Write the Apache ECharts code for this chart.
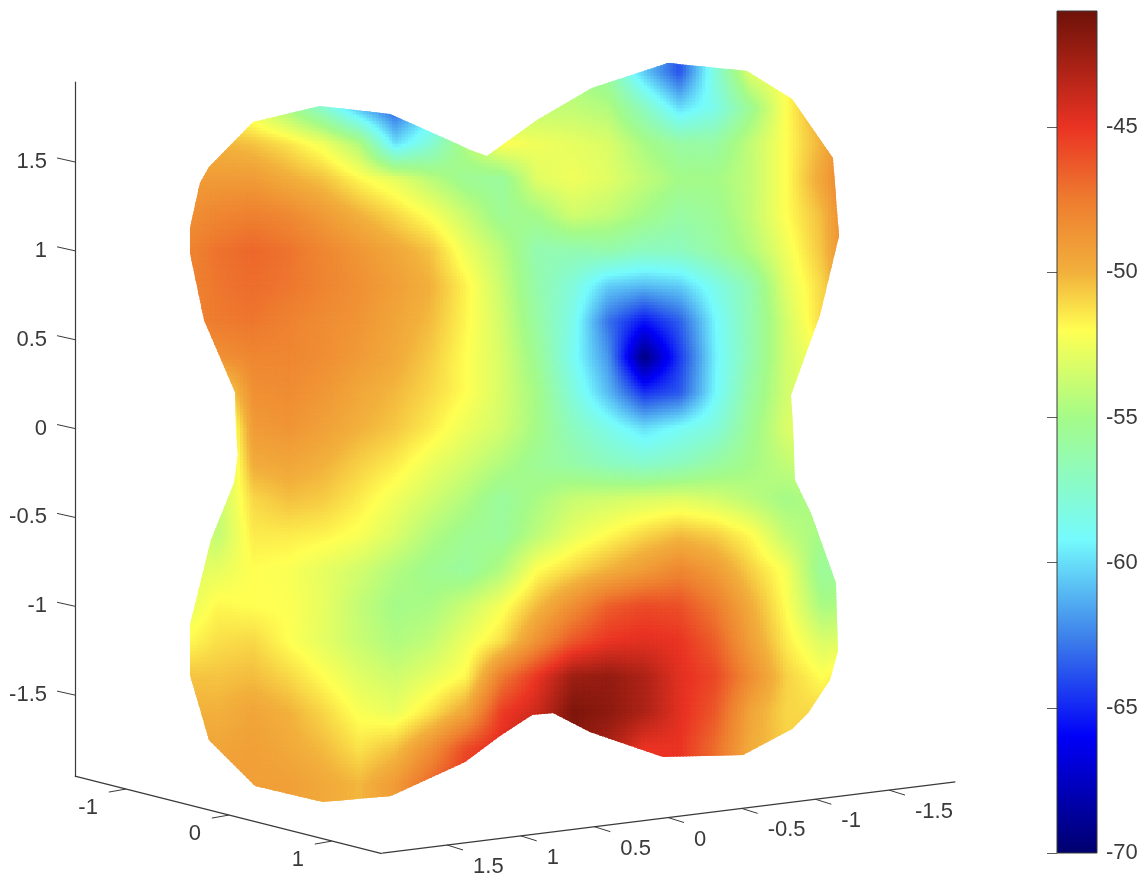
<!DOCTYPE html>
<html>
<head>
<meta charset="utf-8">
<style>
  html, body { margin: 0; padding: 0; background: #fff; }
  #main { width: 1146px; height: 882px; }
</style>
<script src="https://cdn.jsdelivr.net/npm/echarts@6/dist/echarts.min.js"></script>
</head>
<body>
<div id="main"></div>
<script>
// sideways position on screen and height of the surface grid nodes
const colS = [-1.9, -1.7, -1.5, -1.3, -1.1, -0.9, -0.7, -0.5, -0.3, -0.1, 0.1, 0.3, 0.5, 0.7, 0.9, 1.1, 1.3, 1.5, 1.7, 1.9];
const rowZ = [2.2, 2.0, 1.8, 1.6, 1.4, 1.2, 1.0, 0.8, 0.6, 0.4, 0.2, 0, -0.2, -0.4, -0.6, -0.8, -1.0, -1.2, -1.4, -1.6, -1.8, -2.0, -2.2];

// surface colour values, one row per rowZ
const surfaceValues = [
  [-56, -56, -56, -57, -58, -60, -61, -59, -57, -55, -55, -55, -56, -60.5, -63.8, -58, -53, -52, -50, -50],
  [-56, -56, -56, -57, -58, -60, -61, -59, -57, -55, -55, -55, -56, -60.5, -63.8, -58, -53, -52, -50, -50],
  [-52, -52, -53, -55, -57.5, -61, -63.5, -60, -56, -54.5, -54, -54, -54.5, -57, -60, -58.5, -55.5, -52, -49.5, -49],
  [-50, -50, -50.5, -51.3, -52.5, -54.5, -60, -57.8, -54.5, -52, -52.5, -52.8, -53.2, -54.8, -56, -56, -54, -52, -50, -47],
  [-49, -49, -49, -49.8, -50.5, -51.8, -52.8, -54.2, -55.5, -55.8, -53, -52.5, -53, -54, -55, -55, -54, -52, -49.5, -46.5],
  [-48.5, -48, -47.7, -48.1, -49, -50, -51, -52.2, -53.8, -55.5, -55, -53.5, -54, -55, -56, -55.5, -54, -52, -50.3, -46.8],
  [-48, -47.2, -46.8, -47.2, -48, -48.8, -49.6, -50.5, -52.6, -54.2, -56.5, -56.5, -56.3, -57, -57, -56, -54.5, -52.5, -50.5, -47],
  [-48, -47.3, -47, -47.3, -47.9, -48.5, -49.2, -50, -51.7, -53.8, -56.3, -58, -60.5, -61, -60.5, -58.5, -56.5, -53, -51, -48],
  [-48, -47.5, -47.3, -47.8, -48.3, -48.7, -49.5, -50.3, -51.8, -53.5, -56, -58.5, -63, -65.5, -63.5, -59.3, -56.5, -53.5, -51, -50],
  [-48.5, -48.5, -48, -48, -48.4, -49, -49.7, -50.7, -52, -53.3, -55.5, -58.8, -62, -69.5, -64.5, -59.5, -56.5, -53.5, -52, -51],
  [-49, -52, -48.5, -48.3, -48.8, -49.6, -50.2, -51, -52, -53.3, -55, -58, -61, -64.7, -63.7, -59.3, -56, -53.5, -52.5, -52],
  [-50, -55, -49, -48.7, -49.3, -50, -50.6, -51.5, -52.6, -53.5, -55, -57, -58.5, -60, -59, -58, -55.5, -53.2, -52.5, -52],
  [-51, -55, -49.8, -49.5, -50, -50.8, -51.5, -52.6, -53.5, -54.5, -55.5, -56.2, -57, -57.5, -57, -56, -55, -54, -53.5, -53],
  [-52, -54, -51, -50.4, -50.7, -51.5, -52.5, -53.5, -54.5, -55.8, -54.8, -53.8, -53.5, -53.2, -53, -53.4, -54.2, -55, -54.5, -54],
  [-52.5, -54, -51.5, -51.5, -51.7, -52.2, -53.2, -54.5, -55.4, -55.7, -54.2, -52.8, -51.9, -51, -50.3, -50.8, -51.9, -54, -55, -55],
  [-53, -52.8, -52, -52.2, -52.8, -53.5, -54.5, -55.3, -55.8, -54.5, -52, -51, -50, -49, -48, -49, -50.8, -52.3, -55.7, -55.5],
  [-53, -51.8, -52, -52.1, -52.8, -54, -55, -54.8, -53.7, -52.3, -50.3, -48.4, -46.5, -45.8, -46, -47.5, -49.8, -52, -54.8, -54.5],
  [-52, -51.2, -51, -52, -52.9, -53.8, -54.6, -54, -52.6, -51.2, -48.5, -46.2, -45, -44.7, -45, -46.5, -49.2, -51.5, -53.2, -53],
  [-50.5, -50.5, -50.3, -51, -52, -53, -53.6, -52.8, -51.8, -47.5, -45, -42.5, -42.2, -43, -44.7, -45.7, -48.3, -50.8, -52, -51],
  [-50, -50, -49.5, -50, -51, -52.2, -52.7, -51.3, -49.5, -45.3, -44, -41.5, -42, -43, -44.7, -46.3, -49.5, -51, -51, -50.5],
  [-49, -49.5, -49.2, -49.7, -50.3, -51.3, -50.5, -48.5, -45.8, -44.5, -43, -42, -43, -45, -45, -47, -49.8, -50.8, -50.5, -50],
  [-49, -49, -49.2, -49.2, -49.7, -50.2, -49, -46.8, -45, -45, -44, -42.5, -43, -45, -45, -47, -50, -50.5, -50, -50],
  [-49, -49, -49.2, -49.2, -49.7, -50.2, -49, -46.8, -45, -45, -44, -42.5, -43, -45, -45, -47, -50, -50.5, -50, -50]
];

// silhouette of the surface, [sideways, height]
const outline = [
  [-1.502, 1.725], [-1.125, 1.815], [-0.732, 1.770], [-0.377, 1.612], [-0.281, 1.567], [-0.186, 1.533],
  [0.096, 1.736], [0.405, 1.916], [0.833, 2.057], [1.277, 2.012], [1.531, 1.854], [1.761, 1.522],
  [1.795, 1.083], [1.688, 0.639], [1.525, 0.189], [1.536, 0.008], [1.547, -0.290], [1.637, -0.475],
  [1.778, -0.869], [1.789, -1.252], [1.744, -1.415], [1.621, -1.601], [1.531, -1.691], [1.255, -1.837],
  [0.805, -1.848], [0.394, -1.708], [0.186, -1.601], [0.068, -1.612], [-0.113, -1.730], [-0.309, -1.877],
  [-0.726, -2.068], [-1.109, -2.102], [-1.491, -2.012], [-1.750, -1.753], [-1.857, -1.387], [-1.857, -1.106],
  [-1.739, -0.627], [-1.609, -0.307], [-1.587, -0.149], [-1.598, -0.008], [-1.604, 0.205], [-1.778, 0.611],
  [-1.857, 0.988], [-1.857, 1.128], [-1.801, 1.381], [-1.750, 1.471]
];

// colormap
const colorLevels = [-70, -66, -62.7, -59.2, -55, -52, -50, -47.5, -45, -41];
const colorHexes = ['#00006e', '#0000f8', '#3b7cea', '#75fbfd', '#a4fb88', '#ffff52', '#f2b03c', '#ee7c2f', '#ea3323', '#6e1209'];

// tick labels
const zTicks = [-1.5, -1, -0.5, 0, 0.5, 1, 1.5];
const xTicks = [-1, 0, 1];
const yTicks = [-1.5, -1, -0.5, 0, 0.5, 1, 1.5];

const SUB = 11;

function valueColor(v) {
  let k = 0;
  while (k < colorLevels.length - 2 && v > colorLevels[k + 1]) k++;
  const t = (v - colorLevels[k]) / (colorLevels[k + 1] - colorLevels[k]);
  return echarts.color.lerp(Math.max(0, Math.min(1, t)), [colorHexes[k], colorHexes[k + 1]]);
}

// the two floor axes drawn at their slant
const xFloor = t => [-1.638 + 0.5796 * t, -2.175 - 0.1463 * t];
const yFloor = t => [0.833 - 0.829 * t, -2.189 - 0.103 * t];

const cells = [];
for (let j = 0; j < rowZ.length - 1; j++) {
  for (let i = 0; i < colS.length - 1; i++) cells.push([i, j]);
}

function renderCell(params, api) {
  const i = api.value(0), j = api.value(1);
  const s0 = colS[i], s1 = colS[i + 1], z0 = rowZ[j], z1 = rowZ[j + 1];
  const a = surfaceValues[j][i], b = surfaceValues[j][i + 1];
  const c = surfaceValues[j + 1][i], d = surfaceValues[j + 1][i + 1];
  const children = [];
  for (let m = 0; m < SUB; m++) {
    for (let n = 0; n < SUB; n++) {
      const u = (n + 0.5) / SUB, w = (m + 0.5) / SUB;
      const v = (a * (1 - u) + b * u) * (1 - w) + (c * (1 - u) + d * u) * w;
      const col = valueColor(v);
      const sa = s0 + (s1 - s0) * n / SUB, sb = s0 + (s1 - s0) * (n + 1) / SUB;
      const za = z0 + (z1 - z0) * m / SUB, zb = z0 + (z1 - z0) * (m + 1) / SUB;
      children.push({
        type: 'polygon',
        shape: { points: [api.coord([sa, za]), api.coord([sb, za]), api.coord([sb, zb]), api.coord([sa, zb])] },
        style: { fill: col, stroke: col, lineWidth: 1 },
        silent: true
      });
    }
  }
  return {
    type: 'group',
    children: children,
    clipPath: { type: 'polygon', shape: { points: outline.map(p => api.coord(p)) } }
  };
}

function segment(api, p, q, w) {
  const a = api.coord(p), b = api.coord(q);
  return { type: 'line', shape: { x1: a[0], y1: a[1], x2: b[0], y2: b[1] }, style: { stroke: '#3a3a3a', lineWidth: w } };
}

function label(api, p, dx, dy, text, align) {
  const a = api.coord(p);
  return {
    type: 'text', x: a[0] + dx, y: a[1] + dy,
    style: { text: text, fontFamily: 'Liberation Sans', fontSize: 22, fill: '#3a3a3a', align: align, verticalAlign: 'middle' }
  };
}

function renderFloor(params, api) {
  const ch = [];
  ch.push(segment(api, xFloor(-1.495), xFloor(1.485), 1.2));
  ch.push(segment(api, yFloor(1.94), yFloor(-1.95), 1.2));
  xTicks.forEach(t => {
    const p = xFloor(t);
    ch.push(segment(api, p, [p[0] - 0.096, p[1] - 0.017], 1));
    ch.push(label(api, p, -28, 19, String(t), 'right'));
  });
  yTicks.forEach(t => {
    const p = yFloor(t);
    ch.push(segment(api, p, [p[0] + 0.09, p[1] - 0.028], 1));
    ch.push(label(api, p, 26, 22, String(t), 'left'));
  });
  zTicks.forEach(t => {
    ch.push(segment(api, [-2.504, t], [-2.605, t + 0.0225], 1));
  });
  return { type: 'group', children: ch, silent: true };
}

function renderColorbar(params, api) {
  const top = api.coord([0, -41]), bottom = api.coord([1, -70]);
  const stops = colorLevels.map((v, k) => ({ offset: (-41 - v) / 29, color: colorHexes[k] })).reverse();
  return {
    type: 'rect',
    shape: { x: top[0], y: top[1], width: bottom[0] - top[0], height: bottom[1] - top[1] },
    style: { fill: new echarts.graphic.LinearGradient(0, 0, 0, 1, stops) },
    silent: true
  };
}

const chart = echarts.init(document.getElementById('main'));
chart.setOption({
  backgroundColor: '#ffffff',
  animation: false,
  textStyle: { fontFamily: 'Liberation Sans' },
  grid: [
    { left: 75, top: 82, width: 885, height: 694.5, containLabel: false },
    { left: 1057, top: 11, width: 40, height: 842, show: true, borderColor: '#3a3a3a', borderWidth: 1, backgroundColor: 'transparent' }
  ],
  xAxis: [
    { type: 'value', gridIndex: 0, min: -2.504, max: 2.476, show: false },
    { type: 'value', gridIndex: 1, min: 0, max: 1, show: false }
  ],
  yAxis: [
    {
      type: 'value', gridIndex: 0, min: -1.958, max: 1.95,
      splitLine: { show: false },
      axisLine: { show: true, onZero: false, lineStyle: { color: '#3a3a3a', width: 1.2 } },
      axisTick: { show: false },
      axisLabel: {
        customValues: zTicks, margin: 28, fontSize: 22, color: '#3a3a3a',
        padding: [0, 0, 6, 0], fontFamily: 'Liberation Sans',
        formatter: v => String(v)
      }
    },
    {
      type: 'value', gridIndex: 1, min: -70, max: -41, interval: 5, position: 'right',
      splitLine: { show: false },
      axisLine: { show: false },
      axisTick: { show: true, inside: true, length: 10, lineStyle: { color: 'rgba(40,40,40,0.75)', width: 1 } },
      axisLabel: { margin: 9, fontSize: 22, color: '#3a3a3a', fontFamily: 'Liberation Sans', showMaxLabel: false }
    }
  ],
  series: [
    {
      type: 'custom', xAxisIndex: 0, yAxisIndex: 0, data: cells,
      renderItem: renderCell, clip: false, silent: true, z: 2,
      encode: { x: -1, y: -1 }
    },
    {
      type: 'custom', xAxisIndex: 0, yAxisIndex: 0, data: [[0, 0]],
      renderItem: renderFloor, clip: false, silent: true, z: 3,
      encode: { x: -1, y: -1 }
    },
    {
      type: 'custom', xAxisIndex: 1, yAxisIndex: 1, data: [[0, -41]],
      renderItem: renderColorbar, clip: false, silent: true, z: -1,
      encode: { x: -1, y: -1 }
    }
  ]
});
</script>
</body>
</html>
